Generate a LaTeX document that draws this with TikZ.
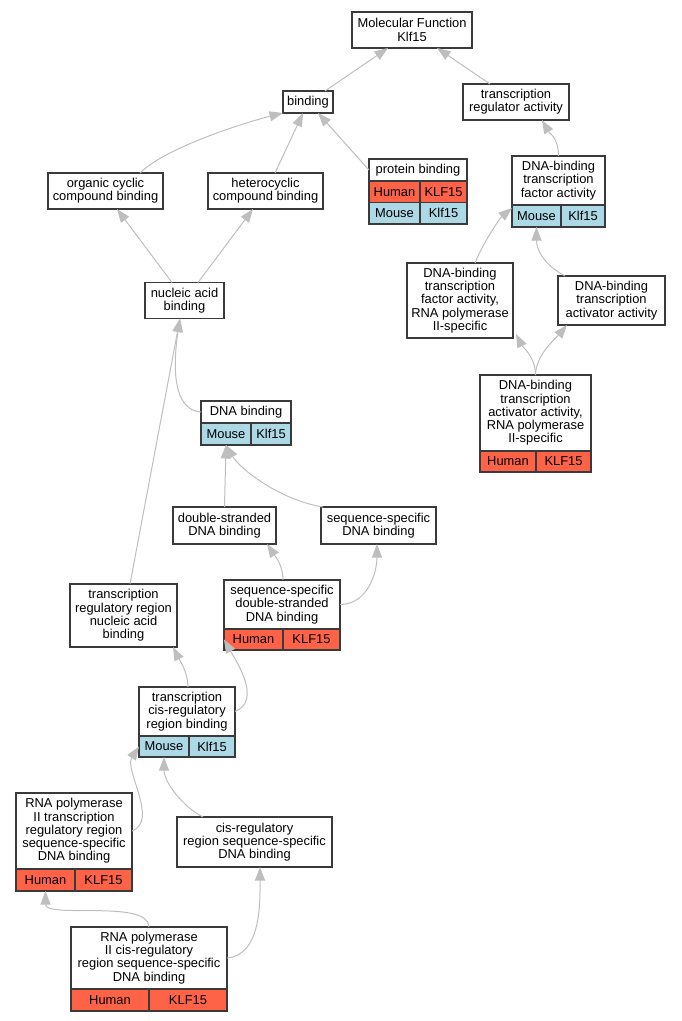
\documentclass[tikz,border=0pt]{standalone}
\usepackage{fontspec}
\setmainfont{Liberation Sans}
\usepackage{tikz}
\usetikzlibrary{arrows.meta,calc}

\definecolor{boxline}{HTML}{3A3A3A}
\definecolor{edgegray}{HTML}{BEBEBE}
\definecolor{human}{HTML}{FF6347}
\definecolor{mouse}{HTML}{ADD8E6}

\tikzset{
  term/.style={draw=boxline, line width=1.2pt, fill=white, align=center, inner sep=0pt, outer sep=0pt,
    font=\fontsize{12.9pt}{13.25pt}\selectfont},
  humancell/.style={term, fill=human, anchor=north west},
  mousecell/.style={term, fill=mouse, anchor=north west},
  isa/.style={draw=edgegray, line width=1pt, -{Triangle[length=13.5pt,width=10pt]}}
}

\begin{document}
\begin{tikzpicture}[x=1pt,y=-1pt]
\useasboundingbox (0,0) rectangle (681,1021);

\node[term, minimum width=120pt, minimum height=36pt] (mf) at (412,30) {Molecular Function\\Klf15};
\node[term, minimum width=50pt, minimum height=22pt] (bind) at (308,102) {binding};
\node[term, minimum width=106pt, minimum height=36pt] (tra) at (516,102) {transcription\\regulator activity};

\node[term, minimum width=98pt, minimum height=22pt] (prot) at (418,170) {protein binding};
\node[humancell, minimum width=51pt, minimum height=21.5pt] (proth1) at (prot.south west) {Human};
\node[humancell, minimum width=47pt, minimum height=21.5pt] (proth2) at (proth1.north east) {KLF15};
\node[mousecell, minimum width=51pt, minimum height=21.5pt] (protm1) at (proth1.south west) {Mouse};
\node[mousecell, minimum width=47pt, minimum height=21.5pt] (protm2) at (protm1.north east) {Klf15};

\node[term, minimum width=115pt, minimum height=36pt] (ocb) at (105.5,191) {organic cyclic\\compound binding};
\node[term, minimum width=115pt, minimum height=36pt] (hcb) at (265.5,191) {heterocyclic\\compound binding};
\node[term, minimum width=79pt, minimum height=36pt] (nab) at (184.5,300.5) {nucleic acid\\binding};

\node[term, minimum width=93pt, minimum height=49pt] (dbtf) at (558.5,180.5) {DNA-binding\\transcription\\factor activity};
\node[mousecell, minimum width=49pt, minimum height=22pt] (dbtfm1) at (dbtf.south west) {Mouse};
\node[mousecell, minimum width=44pt, minimum height=22pt] (dbtfm2) at (dbtfm1.north east) {Klf15};

\node[term, minimum width=106pt, minimum height=75pt] (dbtf2) at (460,300.5) {DNA-binding\\transcription\\factor activity,\\RNA polymerase\\II-specific};
\node[term, minimum width=107pt, minimum height=49pt] (dbta) at (611.5,300.5) {DNA-binding\\transcription\\activator activity};

\node[term, minimum width=111pt, minimum height=76pt] (dbta2) at (535.5,413) {DNA-binding\\transcription\\activator activity,\\RNA polymerase\\II-specific};
\node[humancell, minimum width=56pt, minimum height=21pt] (dbta2h1) at (dbta2.south west) {Human};
\node[humancell, minimum width=55pt, minimum height=21pt] (dbta2h2) at (dbta2h1.north east) {KLF15};

\node[term, minimum width=90pt, minimum height=22pt] (dnab) at (246,412) {DNA binding};
\node[mousecell, minimum width=50pt, minimum height=22pt] (dnabm1) at (dnab.south west) {Mouse};
\node[mousecell, minimum width=40pt, minimum height=22pt] (dnabm2) at (dnabm1.north east) {Klf15};

\node[term, minimum width=103pt, minimum height=37pt] (dsb) at (224.5,525.5) {double-stranded\\DNA binding};
\node[term, minimum width=115pt, minimum height=37pt] (ssb) at (378.5,525.5) {sequence-specific\\DNA binding};

\node[term, minimum width=116pt, minimum height=49pt] (ssds) at (282,604.5) {sequence-specific\\double-stranded\\DNA binding};
\node[humancell, minimum width=59pt, minimum height=21pt] (ssdsh1) at (ssds.south west) {Human};
\node[humancell, minimum width=57pt, minimum height=21pt] (ssdsh2) at (ssdsh1.north east) {KLF15};

\node[term, minimum width=107pt, minimum height=63pt] (trr) at (123.5,615.5) {transcription\\regulatory region\\nucleic acid\\binding};

\node[term, minimum width=96pt, minimum height=49pt] (tcis) at (187,711.5) {transcription\\cis-regulatory\\region binding};
\node[mousecell, minimum width=50pt, minimum height=21pt] (tcism1) at (tcis.south west) {Mouse};
\node[mousecell, minimum width=46pt, minimum height=21pt] (tcism2) at (tcism1.north east) {Klf15};

\node[term, minimum width=116pt, minimum height=76pt] (rtrr) at (74,831) {RNA polymerase\\II transcription\\regulatory region\\sequence-specific\\DNA binding};
\node[humancell, minimum width=59pt, minimum height=22pt] (rtrrh1) at (rtrr.south west) {Human};
\node[humancell, minimum width=57pt, minimum height=22pt] (rtrrh2) at (rtrrh1.north east) {KLF15};

\node[term, minimum width=155pt, minimum height=50pt] (crs) at (254.5,842) {cis-regulatory\\region sequence-specific\\DNA binding};

\node[term, minimum width=156pt, minimum height=62pt] (rcrs) at (149,958) {RNA polymerase\\II cis-regulatory\\region sequence-specific\\DNA binding};
\node[humancell, minimum width=78pt, minimum height=22pt] (rcrsh1) at (rcrs.south west) {Human};
\node[humancell, minimum width=78pt, minimum height=22pt] (rcrsh2) at (rcrsh1.north east) {KLF15};

\draw[isa] ($(bind.north east)+(-8,0)$) -- ($(mf.south)+(-24,0)$);
\draw[isa] ($(tra.north)+(-26,0)$) -- ($(mf.south)+(25,0)$);
\draw[isa] ($(ocb.north)+(34.5,0)$) .. controls +(25,-25) and +(-40,10) .. (bind.south west);
\draw[isa] ($(hcb.north)+(9.5,0)$) -- ($(bind.south)+(-5,0)$);
\draw[isa] (prot.west) -- ($(bind.south)+(10,0)$);
\draw[isa] (dbtf.north) .. controls +(0,-18) and +(8,14) .. ($(tra.south)+(26,0)$);
\draw[isa] ($(nab.north)+(-12.5,0)$) -- ($(ocb.south)+(11.5,0)$);
\draw[isa] ($(nab.north)+(13.5,0)$) -- ($(hcb.south)+(-12.5,0)$);
\draw[isa] ($(dbtf2.north)+(15,0)$) .. controls +(8,-20) and +(-12,10) .. ($(dbtfm1.north west)+(0,3)$);
\draw[isa] ($(dbta.north)+(-46.5,0)$) .. controls +(-22,-12) and +(0,22) .. (dbtfm1.south);
\draw[isa] (dbta2.north) .. controls +(0,-18) and +(6,12) .. ($(dbtf2.south east)+(3,-4)$);
\draw[isa] (dbta2.north) .. controls +(0,-20) and +(-10,12) .. ($(dbta.south west)+(9,0)$);
\draw[isa] (dnab.west) .. controls +(-29,-2) and +(-7,46) .. ($(nab.south)+(-4.5,0)$);
\draw[isa] ($(trr.north)+(6.5,0)$) -- ($(nab.south)+(-4.5,0)$);
\draw[isa] (dsb.north) -- (dnabm1.south);
\draw[isa] ($(ssb.north west)+(2,0)$) .. controls +(-43,-7) and +(14,24) .. (dnabm1.south);
\draw[isa] ($(ssds.north)+(1,0)$) .. controls +(0,-15) and +(8,12) .. ($(dsb.south east)+(-9,0)$);
\draw[isa] (ssds.east) .. controls +(28,0) and +(0,28) .. ($(ssb.south)+(-1.5,0)$);
\draw[isa] ($(tcis.north)+(1,0)$) .. controls +(0,-15) and +(6,12) .. ($(trr.south east)+(-4,0)$);
\draw[isa] (tcis.east) .. controls +(27,-11) and +(13,23) .. (ssdsh1.west);
\draw[isa] (rtrr.east) .. controls +(27,-10) and +(-15,23) .. (tcism1.west);
\draw[isa] ($(crs.north west)+(26,0)$) .. controls +(-20,-10) and +(0,25) .. (tcism1.south);
\draw[isa] (rcrs.north) .. controls +(0,-28) and +(0,28) .. (rtrrh1.south);
\draw[isa] (rcrs.east) .. controls +(35,-3) and +(0,33) .. ($(crs.south)+(5.5,0)$);
\end{tikzpicture}
\end{document}
